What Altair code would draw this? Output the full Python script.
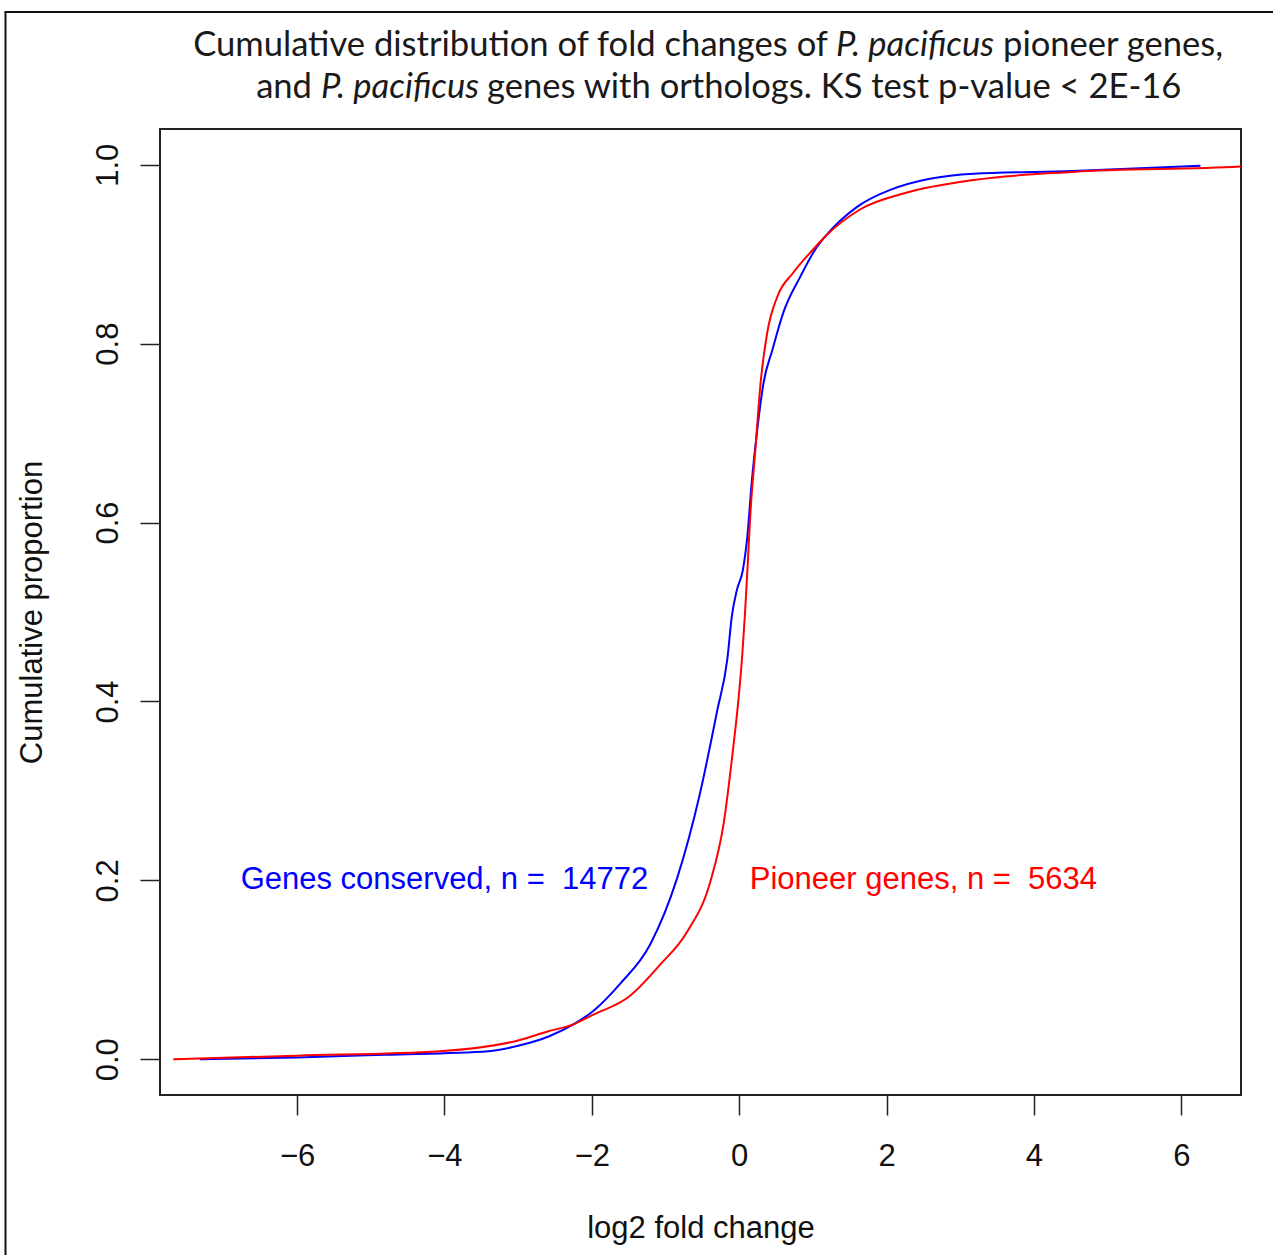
import altair as alt
import pandas as pd

# Empirical CDF of log2 fold changes, genes with orthologs (conserved)
conserved_x = [-7.32, -6.0, -4.8, -3.4, -3.0, -2.57, -2.25, -1.98, -1.62, -1.21,
               -0.84, -0.53, -0.30, -0.16, -0.10, -0.03, 0.05, 0.11, 0.17, 0.24,
               0.33, 0.45, 0.60, 0.83, 1.03, 1.17, 1.60, 2.05, 3.18, 4.53, 6.26]
conserved_y = [0.0, 0.002, 0.005, 0.009, 0.015, 0.026, 0.039, 0.054, 0.084, 0.128,
               0.203, 0.298, 0.389, 0.448, 0.495, 0.525, 0.547, 0.584, 0.645, 0.700,
               0.756, 0.793, 0.835, 0.875, 0.905, 0.920, 0.953, 0.972, 0.990, 0.993, 0.999]

# Empirical CDF of log2 fold changes, pioneer genes
pioneer_x = [-7.68, -6.0, -4.06, -3.0, -2.6, -2.25, -2.0, -1.48, -1.07, -0.71,
             -0.39, -0.21, -0.08, -0.01, 0.04, 0.08, 0.12, 0.15, 0.22, 0.29,
             0.38, 0.52, 0.73, 1.00, 1.17, 1.64, 2.28, 3.18, 4.53, 6.80, 7.0]
pioneer_y = [0.0, 0.004, 0.009, 0.021, 0.031, 0.039, 0.049, 0.071, 0.106, 0.142,
             0.199, 0.264, 0.349, 0.402, 0.45, 0.50, 0.56, 0.607, 0.682, 0.756,
             0.812, 0.853, 0.879, 0.905, 0.920, 0.950, 0.969, 0.983, 0.992, 0.998, 0.999]

# In-plot labels (second space after "=" kept as a no-break space so SVG keeps it)
label_text = ["Genes conserved, n =\u00a0 14772", "Pioneer genes, n =\u00a0 5634"]
label_x = [-4.0, 2.5]
label_y = [0.2, 0.2]
label_color = ["#0000ff", "#ff0000"]

x_ticks = [-6, -4, -2, 0, 2, 4, 6]
y_ticks = [0.0, 0.2, 0.4, 0.6, 0.8, 1.0]

title_line1 = ["Cumulative distribution of fold changes of", "P. pacificus", "pioneer genes,"]
title_line2 = ["and", "P. pacificus", "genes with orthologs. KS test p-value < 2E-16"]

W, H = 1081, 966
AXIS_FONT = "Liberation Sans"
TITLE_FONT = "Lato"
TITLE_SIZE = 34.6

x_scale = alt.Scale(domain=[-7.86, 6.81], nice=False, zero=False)
y_scale = alt.Scale(domain=[-0.04, 1.04], nice=False, zero=False)

x_axis = alt.Axis(values=x_ticks, format="d", title="log2 fold change",
                  grid=False, domain=False, tickSize=20, tickWidth=1.5,
                  tickColor="#222222", labelFont=AXIS_FONT, labelFontSize=31,
                  labelColor="#111111", labelBaseline="alphabetic", labelPadding=50,
                  titleFont=AXIS_FONT, titleFontSize=31, titleFontWeight="normal",
                  titleColor="#111111", titleBaseline="alphabetic",
                  titleX=W / 2, titleY=142, titleAlign="center")
y_axis = alt.Axis(values=y_ticks, format=".1f", title="Cumulative proportion",
                  grid=False, domain=False, tickSize=20, tickWidth=1.5,
                  tickColor="#222222", labelFont=AXIS_FONT, labelFontSize=31,
                  labelColor="#111111", labelAngle=270, labelAlign="center",
                  labelBaseline="alphabetic", labelPadding=23,
                  titleFont=AXIS_FONT, titleFontSize=31, titleFontWeight="normal",
                  titleColor="#111111", titleAngle=270, titleBaseline="alphabetic",
                  titleAlign="center", titleX=-119, titleY=H / 2)

conserved = pd.DataFrame({"x": conserved_x, "y": conserved_y})
pioneer = pd.DataFrame({"x": pioneer_x, "y": pioneer_y})
labels = pd.DataFrame({"x": label_x, "y": label_y, "label": label_text, "color": label_color})

blue_line = alt.Chart(conserved).mark_line(color="#0000ff", strokeWidth=2, clip=True,
                                           interpolate="monotone").encode(
    x=alt.X("x:Q", scale=x_scale, axis=x_axis),
    y=alt.Y("y:Q", scale=y_scale, axis=y_axis),
    order="x:Q",
)
red_line = alt.Chart(pioneer).mark_line(color="#ff0000", strokeWidth=2, clip=True,
                                        interpolate="monotone").encode(
    x=alt.X("x:Q", scale=x_scale),
    y=alt.Y("y:Q", scale=y_scale),
    order="x:Q",
)
annot = alt.Chart(labels).mark_text(font=AXIS_FONT, fontSize=31, align="center",
                                    baseline="middle").encode(
    x=alt.X("x:Q", scale=x_scale),
    y=alt.Y("y:Q", scale=y_scale),
    text="label:N",
    color=alt.Color("color:N", scale=None),
)


def title_piece(text, x, y, align, italic):
    return alt.Chart(pd.DataFrame({"t": [text]})).mark_text(
        font=TITLE_FONT, fontSize=TITLE_SIZE, fontStyle="italic" if italic else "normal",
        align=align, baseline="alphabetic", color="#1a1a1a",
    ).encode(text="t:N", x=alt.value(x), y=alt.value(y))


title_layers = [
    title_piece(title_line1[0], 668, -73, "right", False),
    title_piece(title_line1[1], 676, -73, "left", True),
    title_piece(title_line1[2], 843, -73, "left", False),
    title_piece(title_line2[0], 152, -31, "right", False),
    title_piece(title_line2[1], 161, -31, "left", True),
    title_piece(title_line2[2], 327, -31, "left", False),
]

# Outer figure frame (left and top edges)
frame_left = alt.Chart(pd.DataFrame({"k": [0]})).mark_rule(color="#111111", strokeWidth=2).encode(
    x=alt.value(-154.5), y=alt.value(-117), y2=alt.value(1130))
frame_top = alt.Chart(pd.DataFrame({"k": [0]})).mark_rule(color="#111111", strokeWidth=2).encode(
    x=alt.value(-155.5), x2=alt.value(1120), y=alt.value(-117))

chart = alt.layer(blue_line, red_line, annot, *title_layers, frame_left, frame_top).properties(
    width=W, height=H,
    autosize=alt.AutoSizeParams(type="none"),
    padding={"left": 160, "top": 129, "right": 32, "bottom": 160},
    background="white",
).configure_view(stroke="#222222", strokeWidth=2)

chart.save("out.html", embed_options={"renderer": "svg", "actions": False})
